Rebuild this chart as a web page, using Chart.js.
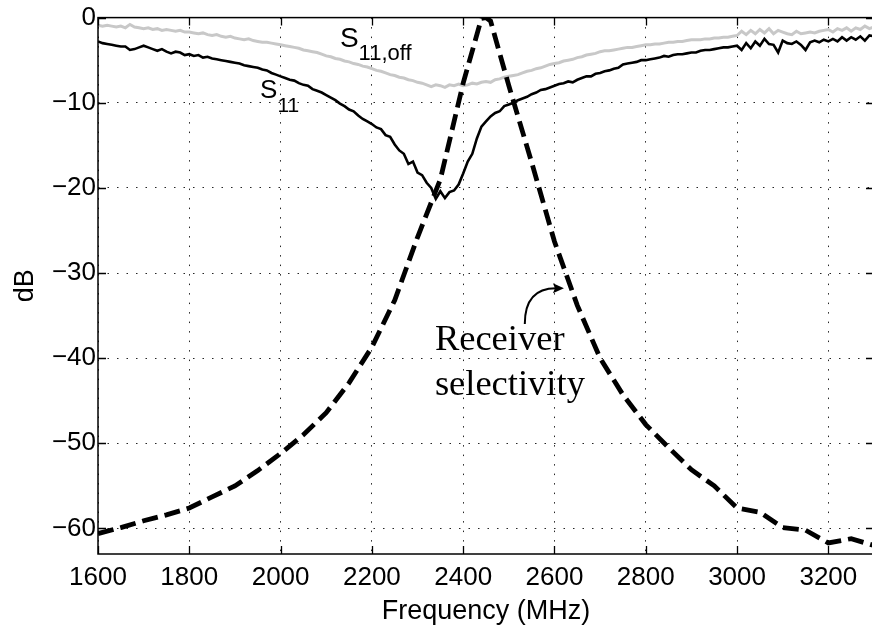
<!DOCTYPE html>
<html>
<head>
<meta charset="utf-8">
<script src="https://cdn.jsdelivr.net/npm/chart.js@4/dist/chart.umd.min.js"></script>
<style>
  html, body { margin: 0; padding: 0; background: #fff; overflow: hidden; }
  #wrap { position: relative; width: 876px; height: 628px; }
</style>
</head>
<body>
<div id="wrap"><canvas id="c"></canvas></div>
<script>
// ---- Data ----
// Measured sweep: 1600 .. 3300 MHz every 10 MHz
const sweepStart = 1600, sweepStep = 10;
const s11 = [
  -2.8, -3.0, -3.1, -3.2, -3.3, -3.4, -3.4, -3.8, -3.7, -3.5,
  -3.3, -3.5, -3.7, -3.9, -3.7, -4.0, -4.2, -4.0, -4.1, -4.4,
  -4.3, -4.5, -4.4, -4.7, -4.6, -4.8, -4.9, -5.0, -5.1, -5.2,
  -5.3, -5.4, -5.6, -5.7, -5.8, -5.9, -6.1, -6.2, -6.5, -6.7,
  -6.9, -7.1, -7.3, -7.4, -7.7, -7.9, -8.0, -8.4, -8.6, -8.8,
  -9.1, -9.4, -9.7, -10.1, -10.4, -10.8, -11.0, -11.5, -11.9, -12.2,
  -12.5, -12.9, -13.1, -13.8, -14.0, -14.9, -15.6, -16.0, -17.2, -16.9,
  -18.2, -18.5, -19.4, -20.0, -21.3, -20.4, -21.2, -20.5, -20.3, -19.6,
  -18.3, -16.9, -16.0, -14.2, -12.8, -12.2, -11.6, -11.2, -11.0, -10.4,
  -10.2, -10.0, -9.7, -9.5, -9.3, -9.0, -8.8, -8.5, -8.4, -8.2,
  -8.0, -7.8, -7.7, -7.5, -7.6, -7.3, -7.1, -6.9, -6.9, -6.6,
  -6.5, -6.3, -6.2, -6.0, -5.9, -5.5, -5.4, -5.3, -5.2, -5.0,
  -5.0, -4.9, -4.8, -4.7, -4.5, -4.6, -4.4, -4.3, -4.3, -4.2,
  -4.1, -4.1, -3.9, -3.8, -3.8, -3.7, -3.6, -3.5, -3.5, -3.4,
  -3.3, -3.8, -3.0, -3.6, -2.8, -3.3, -2.5, -3.1, -3.2, -4.1,
  -2.7, -3.0, -3.1, -2.8, -3.2, -3.8, -2.9, -2.7, -2.9, -2.6,
  -2.8, -2.5, -2.8, -2.3, -2.7, -2.3, -2.6, -2.2, -2.7, -2.1,
  -2.2
];
const s11off = [
  -0.9, -1.0, -0.9, -1.0, -1.1, -1.0, -1.2, -0.8, -1.1, -1.2,
  -1.3, -1.2, -1.4, -1.3, -1.5, -1.4, -1.5, -1.6, -1.5, -1.7,
  -1.7, -1.8, -1.9, -1.8, -2.0, -2.1, -2.0, -2.2, -2.3, -2.2,
  -2.4, -2.5, -2.6, -2.5, -2.7, -2.8, -2.9, -2.9, -3.0, -3.1,
  -3.2, -3.3, -3.4, -3.5, -3.6, -3.8, -3.9, -4.0, -4.1, -4.3,
  -4.5, -4.6, -4.8, -4.9, -5.1, -5.2, -5.4, -5.5, -5.7, -5.8,
  -6.0, -6.2, -6.3, -6.5, -6.7, -6.8, -7.0, -7.1, -7.3, -7.4,
  -7.6, -7.7, -7.9, -8.1, -7.9, -8.0, -8.2, -7.9, -8.0, -7.8,
  -8.0, -7.9, -7.7, -7.8, -7.6, -7.5, -7.6, -7.3, -7.2, -7.0,
  -6.9, -6.8, -6.7, -6.5, -6.3, -6.2, -6.0, -5.9, -5.7, -5.5,
  -5.4, -5.3, -5.1, -5.0, -4.9, -4.7, -4.6, -4.4, -4.3, -4.2,
  -4.0, -3.9, -3.9, -3.8, -3.7, -3.6, -3.5, -3.5, -3.4, -3.3,
  -3.2, -3.2, -3.1, -3.1, -3.0, -2.9, -2.9, -2.8, -2.8, -2.7,
  -2.6, -2.6, -2.6, -2.5, -2.5, -2.4, -2.4, -2.3, -2.3, -2.2,
  -2.1, -1.6, -2.0, -1.5, -1.9, -1.4, -1.8, -1.3, -1.9, -1.5,
  -1.7, -1.9, -2.0, -1.6, -1.9, -1.8, -1.7, -1.8, -1.6, -1.5,
  -1.4, -1.7, -1.3, -1.5, -1.2, -1.6, -1.2, -1.4, -1.0, -1.3,
  -1.1
];
// Receiver selectivity (dashed)
const selFreq = [1600, 1650, 1700, 1750, 1800, 1850, 1900, 1950, 2000, 2050,
                 2100, 2150, 2200, 2250, 2300, 2350, 2400, 2440, 2450, 2460,
                 2500, 2550, 2600, 2650, 2700, 2750, 2800, 2850, 2900, 2950,
                 3000, 3050, 3100, 3150, 3200, 3250, 3300];
const selDb   = [-60.6, -59.9, -59.1, -58.4, -57.6, -56.3, -55.0, -53.2, -51.2, -49.0,
                 -46.4, -42.9, -38.7, -33.2, -25.8, -19.0, -7.7, -0.1, 0.0, -0.4,
                 -8.0, -17.0, -26.3, -33.8, -40.0, -44.3, -47.8, -50.5, -53.1, -55.0,
                 -57.6, -58.1, -59.9, -60.2, -61.7, -61.2, -62.0];
// Axis ticks
const xTicks = [1600, 1800, 2000, 2200, 2400, 2600, 2800, 3000, 3200];
const yTicks = [0, -10, -20, -30, -40, -50, -60];

// ---- Build datasets ----
const sweepFreq = s11.map((_, i) => sweepStart + i * sweepStep);
const toXY = (xs, ys) => xs.map((x, i) => ({ x: x, y: ys[i] }));

const minus = v => (v < 0 ? '\u2212' + Math.abs(v) : String(v));

const frame = {
  id: 'frame',
  afterDatasetsDraw(chart) {
    const { ctx, chartArea: a, scales: { x, y } } = chart;
    ctx.save();
    ctx.strokeStyle = '#000';
    ctx.lineWidth = 1.5;
    ctx.strokeRect(a.left, a.top, a.right - a.left, a.bottom - a.top);
    ctx.lineWidth = 1.3;
    ctx.beginPath();
    const tl = 8;
    xTicks.forEach(v => {
      const px = Math.round(x.getPixelForValue(v)) + 0.5;
      ctx.moveTo(px, a.bottom); ctx.lineTo(px, a.bottom - tl);
      ctx.moveTo(px, a.top); ctx.lineTo(px, a.top + tl);
    });
    yTicks.forEach(v => {
      const py = Math.round(y.getPixelForValue(v)) + 0.5;
      ctx.moveTo(a.left, py); ctx.lineTo(a.left + tl, py);
      ctx.moveTo(a.right, py); ctx.lineTo(a.right - tl, py);
    });
    ctx.stroke();

    // Annotations
    ctx.fillStyle = '#000';
    ctx.textBaseline = 'alphabetic';
    ctx.textAlign = 'left';
    const sub = (f, db, big, small, bigSize, smallSize, drop) => {
      const px = x.getPixelForValue(f), py = y.getPixelForValue(db);
      ctx.font = bigSize + 'px "Liberation Sans", Arial, sans-serif';
      ctx.fillText(big, px, py);
      const w = ctx.measureText(big).width;
      ctx.font = smallSize + 'px "Liberation Sans", Arial, sans-serif';
      ctx.fillText(small, px + w, py + drop);
    };
    sub(2130, -3.45, 'S', '11,off', 28, 22, 13);
    sub(1955, -9.5, 'S', '11', 26, 21, 14);

    ctx.font = '36.5px "Liberation Serif", "Times New Roman", serif';
    const rx = x.getPixelForValue(2338);
    ctx.fillText('Receiver', rx, y.getPixelForValue(-39.0));
    ctx.fillText('selectivity', rx, y.getPixelForValue(-44.3));

    // curved arrow
    const x0 = x.getPixelForValue(2535), y0 = y.getPixelForValue(-36.0);
    const x1 = x.getPixelForValue(2612), y1 = y.getPixelForValue(-31.8);
    ctx.lineWidth = 2;
    ctx.beginPath();
    ctx.moveTo(x0, y0);
    ctx.quadraticCurveTo(x0, y1, x1 - 4, y1);
    ctx.stroke();
    ctx.beginPath();
    ctx.moveTo(x1 + 4, y1);
    ctx.lineTo(x1 - 7, y1 - 5);
    ctx.lineTo(x1 - 5, y1);
    ctx.lineTo(x1 - 7, y1 + 5);
    ctx.closePath();
    ctx.fill();
    ctx.restore();
  }
};

Chart.defaults.font.family = '"Liberation Sans", Arial, sans-serif';
Chart.defaults.color = '#000';

new Chart(document.getElementById('c'), {
  type: 'line',
  data: {
    datasets: [
      {
        label: 'Receiver selectivity',
        data: toXY(selFreq, selDb),
        borderColor: '#000',
        borderWidth: 4.8,
        borderDash: [16, 7],
        borderCapStyle: 'butt',
        borderJoinStyle: 'miter',
        pointRadius: 0,
        tension: 0,
        fill: false
      },
      {
        label: 'S11',
        data: toXY(sweepFreq, s11),
        borderColor: '#000',
        borderWidth: 2.6,
        pointRadius: 0,
        tension: 0,
        fill: false
      },
      {
        label: 'S11,off',
        data: toXY(sweepFreq, s11off),
        borderColor: '#c8c8c8',
        borderWidth: 3,
        pointRadius: 0,
        tension: 0,
        fill: false
      }
    ]
  },
  options: {
    responsive: true,
    maintainAspectRatio: false,
    animation: false,
    devicePixelRatio: 1,
    layout: { padding: { top: 17, right: 2, left: 0, bottom: 0 } },
    plugins: { legend: { display: false }, tooltip: { enabled: false } },
    scales: {
      x: {
        type: 'linear',
        min: 1600,
        max: 3300,
        afterBuildTicks: s => { s.ticks = xTicks.map(v => ({ value: v })); },
        afterFit: s => { s.height = 74; },
        ticks: { font: { size: 26 }, padding: 8, maxRotation: 0, autoSkip: false, color: '#000', callback: v => String(v) },
        grid: { color: 'rgba(0,0,0,0.85)', lineWidth: 1, drawTicks: false },
        border: { display: false, dash: [1.5, 8] },
        title: { display: true, text: 'Frequency (MHz)', font: { size: 27 }, color: '#000', padding: { top: 0, bottom: 0 } }
      },
      y: {
        type: 'linear',
        min: -63,
        max: 0,
        afterBuildTicks: s => { s.ticks = yTicks.map(v => ({ value: v })); },
        afterFit: s => { s.width = 98; },
        ticks: { font: { size: 26 }, padding: 2, color: '#000', callback: v => minus(v) },
        grid: { color: 'rgba(0,0,0,0.85)', lineWidth: 1, drawTicks: false },
        border: { display: false, dash: [1.5, 8] },
        title: { display: true, text: 'dB', font: { size: 27 }, color: '#000', padding: { top: 9, bottom: 0 } }
      }
    }
  },
  plugins: [frame]
});
</script>
</body>
</html>
